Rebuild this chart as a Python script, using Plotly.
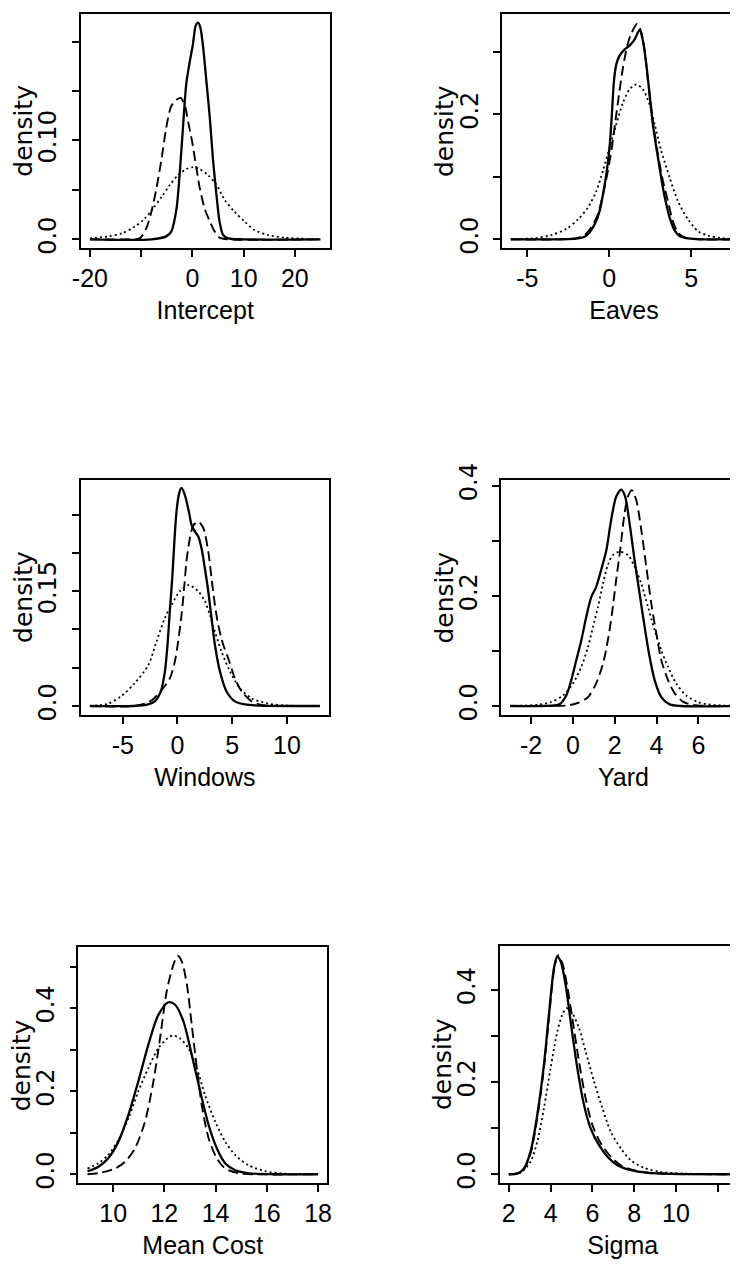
import plotly.graph_objects as go

W, H = 738, 1268

# ---------------- data ----------------
# Intercept
intercept_solid_x = [-20, -8, -5.1, -4.1, -3.1, -2.5, -1.8, -1.2, -0.5, 0.1, 0.65, 1.1, 1.56, 2.1, 2.73, 3.4, 4.0, 4.7, 5.3, 6.0, 7.0, 10, 25]
intercept_solid_y = [0, 0, 0.003, 0.008, 0.031, 0.065, 0.116, 0.157, 0.180, 0.197, 0.216, 0.219, 0.214, 0.194, 0.160, 0.123, 0.082, 0.045, 0.018, 0.0044, 0.001, 0, 0]
intercept_dash_x = [-20, -13, -10.3, -9.0, -8.0, -7.0, -6.0, -5.1, -4.1, -3.1, -2.3, -1.5, -0.84, -0.06, 0.78, 1.43, 2.4, 3.4, 4.35, 5.3, 7, 25]
intercept_dash_y = [0, 0, 0.001, 0.011, 0.028, 0.052, 0.082, 0.113, 0.135, 0.141, 0.143, 0.136, 0.119, 0.099, 0.072, 0.052, 0.031, 0.018, 0.008, 0.0017, 0, 0]
intercept_dot_x = [-20, -16.4, -13.8, -11.2, -9.3, -7.7, -6.0, -4.4, -2.8, -1.2, 0.13, 1.4, 3.05, 4.7, 6.3, 8.2, 10.2, 12.1, 14.7, 18, 25]
intercept_dot_y = [0.001, 0.003, 0.006, 0.013, 0.021, 0.031, 0.043, 0.055, 0.065, 0.071, 0.073, 0.071, 0.065, 0.055, 0.040, 0.028, 0.018, 0.0095, 0.0044, 0.0017, 0]

# Eaves
eaves_solid_x = [-6, -3, -2, -1.5, -1.2, -0.89, -0.59, -0.38, -0.18, 0.02, 0.16, 0.29, 0.43, 0.63, 0.94, 1.24, 1.55, 1.85, 2.05, 2.26, 2.46, 2.66, 2.87, 3.07, 3.27, 3.48, 3.68, 3.95, 4.29, 4.8, 5.82, 8]
eaves_solid_y = [0, 0, 0.001, 0.004, 0.011, 0.024, 0.045, 0.072, 0.104, 0.147, 0.200, 0.254, 0.280, 0.294, 0.304, 0.310, 0.320, 0.335, 0.318, 0.280, 0.232, 0.184, 0.147, 0.115, 0.083, 0.056, 0.035, 0.016, 0.0053, 0.0016, 0, 0]
eaves_dash_x = [-6, -3, -2, -1.5, -1.1, -0.69, -0.38, -0.08, 0.16, 0.43, 0.63, 0.84, 1.1, 1.34, 1.71, 1.95, 2.16, 2.36, 2.66, 2.97, 3.27, 3.58, 3.88, 4.19, 4.6, 5.4, 8]
eaves_dash_y = [0, 0, 0.002, 0.007, 0.019, 0.040, 0.072, 0.110, 0.147, 0.200, 0.238, 0.275, 0.310, 0.329, 0.345, 0.332, 0.302, 0.254, 0.190, 0.136, 0.094, 0.061, 0.029, 0.011, 0.003, 0, 0]
eaves_dot_x = [-6, -4.5, -3.5, -2.6, -1.9, -1.3, -0.79, -0.38, 0.02, 0.43, 0.84, 1.24, 1.65, 2.05, 2.46, 2.77, 3.17, 3.68, 4.19, 4.8, 5.41, 6.02, 6.8, 8]
eaves_dot_y = [0, 0.002, 0.007, 0.017, 0.032, 0.051, 0.077, 0.110, 0.147, 0.184, 0.219, 0.240, 0.248, 0.240, 0.216, 0.184, 0.142, 0.099, 0.061, 0.032, 0.013, 0.006, 0.002, 0]

# Windows
windows_solid_x = [-8, -4, -2.68, -2.07, -1.52, -1.15, -0.91, -0.7, -0.48, -0.3, -0.09, 0.15, 0.37, 0.67, 1.04, 1.28, 1.59, 1.89, 2.2, 2.5, 2.81, 3.11, 3.42, 3.88, 4.48, 5.25, 6.17, 7.4, 13]
windows_solid_y = [0, 0, 0.002, 0.006, 0.019, 0.045, 0.080, 0.124, 0.167, 0.211, 0.254, 0.278, 0.285, 0.276, 0.254, 0.237, 0.228, 0.222, 0.206, 0.180, 0.150, 0.115, 0.080, 0.045, 0.019, 0.006, 0.002, 0.0005, 0]
windows_dash_x = [-8, -4, -2.5, -1.5, -0.7, -0.24, 0.06, 0.37, 0.61, 0.82, 1.13, 1.44, 1.89, 2.35, 2.81, 3.11, 3.42, 3.72, 4.18, 4.64, 5.25, 5.86, 6.77, 7.69, 9, 13]
windows_dash_y = [0, 0, 0.006, 0.020, 0.036, 0.058, 0.084, 0.119, 0.154, 0.189, 0.219, 0.236, 0.241, 0.233, 0.202, 0.167, 0.132, 0.106, 0.080, 0.062, 0.036, 0.019, 0.006, 0.0013, 0, 0]
windows_dot_x = [-8, -6.34, -5.12, -3.9, -2.68, -1.92, -1.15, -0.55, 0.22, 0.98, 1.89, 2.5, 2.96, 3.42, 4.03, 4.8, 5.71, 6.77, 8.3, 10, 13]
windows_dot_y = [0, 0.003, 0.013, 0.030, 0.053, 0.084, 0.115, 0.132, 0.150, 0.158, 0.150, 0.137, 0.119, 0.097, 0.071, 0.045, 0.023, 0.010, 0.003, 0.0005, 0]

# Yard
yard_solid_x = [-3, -1.5, -0.64, -0.32, -0.08, 0.16, 0.4, 0.64, 0.88, 1.11, 1.35, 1.6, 1.83, 2.07, 2.31, 2.5, 2.71, 2.95, 3.19, 3.43, 3.67, 3.91, 4.23, 4.63, 5.18, 8]
yard_solid_y = [0, 0, 0.003, 0.019, 0.047, 0.083, 0.119, 0.162, 0.198, 0.216, 0.247, 0.283, 0.338, 0.380, 0.393, 0.380, 0.332, 0.265, 0.204, 0.144, 0.089, 0.047, 0.016, 0.003, 0, 0]
yard_dash_x = [-3, -1.5, -0.24, 0.24, 0.72, 1.11, 1.44, 1.67, 1.87, 2.07, 2.28, 2.47, 2.63, 2.82, 3.03, 3.27, 3.51, 3.75, 3.99, 4.23, 4.55, 4.87, 5.26, 5.74, 6.5, 8]
yard_dash_y = [0, 0, 0.0012, 0.0055, 0.016, 0.041, 0.077, 0.119, 0.168, 0.229, 0.289, 0.350, 0.380, 0.392, 0.374, 0.320, 0.253, 0.186, 0.132, 0.083, 0.047, 0.023, 0.008, 0.002, 0, 0]
yard_dot_x = [-3, -2.2, -1.67, -1.04, -0.48, 0.0, 0.4, 0.72, 0.96, 1.2, 1.44, 1.67, 1.91, 2.23, 2.63, 2.95, 3.27, 3.59, 3.91, 4.23, 4.55, 4.94, 5.42, 5.98, 6.46, 7.2, 8]
yard_dot_y = [0, 0.001, 0.0024, 0.0073, 0.019, 0.041, 0.071, 0.107, 0.144, 0.180, 0.222, 0.256, 0.274, 0.280, 0.274, 0.253, 0.222, 0.180, 0.138, 0.101, 0.071, 0.041, 0.019, 0.0073, 0.003, 0.001, 0]

# Mean Cost
meancost_solid_x = [9.0, 9.41, 9.8, 10.2, 10.59, 10.98, 11.37, 11.76, 12.16, 12.42, 12.75, 13.07, 13.4, 13.73, 14.05, 14.38, 14.77, 15.29, 16.34, 18]
meancost_solid_y = [0.0072, 0.0177, 0.038, 0.078, 0.142, 0.223, 0.311, 0.383, 0.414, 0.408, 0.367, 0.287, 0.199, 0.118, 0.062, 0.026, 0.0096, 0.0024, 0, 0]
meancost_dash_x = [9.0, 9.54, 10.07, 10.46, 10.85, 11.24, 11.57, 11.83, 12.09, 12.35, 12.52, 12.68, 12.88, 13.07, 13.27, 13.46, 13.73, 14.05, 14.38, 14.9, 15.56, 18]
meancost_dash_y = [0.0, 0.004, 0.0137, 0.030, 0.062, 0.126, 0.223, 0.327, 0.440, 0.504, 0.526, 0.512, 0.456, 0.359, 0.255, 0.166, 0.086, 0.038, 0.0137, 0.0024, 0, 0]
meancost_dot_x = [9.0, 9.41, 9.8, 10.2, 10.59, 10.98, 11.37, 11.76, 12.16, 12.35, 12.61, 12.94, 13.27, 13.59, 13.99, 14.38, 14.77, 15.29, 15.95, 16.73, 18]
meancost_dot_y = [0.0137, 0.026, 0.046, 0.082, 0.134, 0.199, 0.255, 0.303, 0.329, 0.334, 0.327, 0.303, 0.255, 0.190, 0.126, 0.078, 0.046, 0.0217, 0.0072, 0.0016, 0]

# Sigma
sigma_solid_x = [2.0, 2.4, 2.72, 3.04, 3.36, 3.68, 3.92, 4.16, 4.32, 4.48, 4.72, 4.96, 5.28, 5.6, 5.92, 6.32, 6.72, 7.2, 7.84, 8.64, 9.76, 13]
sigma_solid_y = [0, 0.0014, 0.012, 0.049, 0.128, 0.237, 0.346, 0.447, 0.472, 0.462, 0.411, 0.331, 0.230, 0.150, 0.099, 0.063, 0.038, 0.0196, 0.0087, 0.0029, 0.0007, 0]
sigma_dash_x = [2.0, 2.4, 2.72, 3.04, 3.36, 3.68, 3.92, 4.16, 4.35, 4.56, 4.8, 5.04, 5.36, 5.68, 6.0, 6.4, 6.88, 7.36, 8.0, 8.8, 10.08, 13]
sigma_dash_y = [0, 0.002, 0.011, 0.045, 0.121, 0.230, 0.338, 0.440, 0.475, 0.458, 0.407, 0.338, 0.244, 0.164, 0.107, 0.067, 0.038, 0.0196, 0.0087, 0.0029, 0.0007, 0]
sigma_dot_x = [2.0, 2.56, 3.04, 3.36, 3.68, 4.0, 4.32, 4.56, 4.77, 5.04, 5.36, 5.68, 6.08, 6.48, 6.88, 7.36, 7.84, 8.48, 9.28, 10.4, 13]
sigma_dot_y = [0, 0.0036, 0.027, 0.070, 0.143, 0.230, 0.309, 0.346, 0.360, 0.349, 0.317, 0.266, 0.201, 0.143, 0.092, 0.056, 0.030, 0.0138, 0.0051, 0.0014, 0]

# axis labels and ticks
x_titles = ["Intercept", "Eaves", "Windows", "Yard", "Mean Cost", "Sigma"]
x_tickvals = [[-20, -10, 0, 10, 20], [-5, 0, 5], [-5, 0, 5, 10], [-2, 0, 2, 4, 6, 8], [10, 12, 14, 16, 18], [2, 4, 6, 8, 10, 12]]
x_ticktext = [["-20", "", "0", "10", "20"], ["-5", "0", "5"], ["-5", "0", "5", "10"], ["-2", "0", "2", "4", "6", "8"], ["10", "12", "14", "16", "18"], ["2", "4", "6", "8", "10", ""]]
y_tickvals = [[0, 0.05, 0.10, 0.15, 0.20], [0, 0.1, 0.2, 0.3], [0, 0.05, 0.10, 0.15, 0.20, 0.25], [0, 0.1, 0.2, 0.3, 0.4], [0, 0.1, 0.2, 0.3, 0.4, 0.5], [0, 0.1, 0.2, 0.3, 0.4]]
y_ticktext = [["0.0", "", "0.10", "", ""], ["0.0", "", "0.2", ""], ["0.0", "", "", "0.15", "", ""], ["0.0", "", "0.2", "", "0.4"], ["0.0", "", "0.2", "", "0.4", ""], ["0.0", "", "0.2", "", "0.4"]]
y_title = "density"

series = [
    (intercept_solid_x, intercept_solid_y, intercept_dash_x, intercept_dash_y, intercept_dot_x, intercept_dot_y),
    (eaves_solid_x, eaves_solid_y, eaves_dash_x, eaves_dash_y, eaves_dot_x, eaves_dot_y),
    (windows_solid_x, windows_solid_y, windows_dash_x, windows_dash_y, windows_dot_x, windows_dot_y),
    (yard_solid_x, yard_solid_y, yard_dash_x, yard_dash_y, yard_dot_x, yard_dot_y),
    (meancost_solid_x, meancost_solid_y, meancost_dash_x, meancost_dash_y, meancost_dot_x, meancost_dot_y),
    (sigma_solid_x, sigma_solid_y, sigma_dash_x, sigma_dash_y, sigma_dot_x, sigma_dot_y),
]

# ---------------- layout geometry (pixels) ----------------
# frame boxes: left, right, top, bottom
boxes = [
    (72.7, 321.7, 6.0, 240.0),
    (494.0, 738.0, 6.0, 240.0),
    (72.7, 321.0, 471.7, 706.7),
    (493.0, 738.0, 472.3, 706.7),
    (70.3, 319.3, 939.0, 1175.0),
    (491.6, 738.0, 938.0, 1175.0),
]
x_ranges = [(-21.8, 26.8), (-6.54, 8.34), (-8.84, 13.84), (-3.44, 8.28), (8.64, 18.36), (1.56, 13.35)]
y_ranges = [(-0.00876, 0.2278), (-0.0139, 0.3606), (-0.0114, 0.2958), (-0.01576, 0.4098), (-0.021, 0.547), (-0.019, 0.495)]
YTITLE_GAP = 57  # px from frame left edge to the "density" label anchor

XFONT = "Liberation Sans, Arial, sans-serif"
YFONT = "DejaVu Sans, Liberation Sans, sans-serif"

fig = go.Figure()
layout = {}
annotations = []
for i in range(6):
    n = "" if i == 0 else str(i + 1)
    sx, sy, dx, dy, ox, oy = series[i]
    for xs, ys, dash, lw in ((ox, oy, "2px,3px", 1.8), (dx, dy, "10px,5px", 1.9), (sx, sy, "solid", 2.3)):
        fig.add_trace(go.Scatter(
            x=xs, y=ys, mode="lines", xaxis="x" + n, yaxis="y" + n,
            line=dict(color="black", width=lw, dash=dash, shape="spline", smoothing=0.8),
            showlegend=False, hoverinfo="skip",
        ))
    l, r, t, b = boxes[i]
    right_col = i % 2 == 1
    layout["xaxis" + n] = dict(
        domain=[l / W, r / W], range=list(x_ranges[i]), anchor="y" + n,
        automargin=False, ticklabeloverflow="allow",
        showline=True, linecolor="black", linewidth=1.6, mirror=True,
        ticks="outside", ticklen=7, tickwidth=1.5, tickcolor="black",
        tickvals=x_tickvals[i], ticktext=x_ticktext[i],
        tickfont=dict(family=XFONT, size=25, color="black"),
        ticklabelstandoff=0,
        showgrid=False, zeroline=False,
        title=dict(text=x_titles[i], font=dict(family=XFONT, size=25, color="black"), standoff=11),
    )
    layout["yaxis" + n] = dict(
        domain=[1 - b / H, 1 - t / H], range=list(y_ranges[i]), anchor="x" + n,
        automargin=False, ticklabeloverflow="allow",
        showline=True, linecolor="black", linewidth=1.6, mirror=not right_col,
        ticks="outside", ticklen=7, tickwidth=1.5, tickcolor="black",
        tickvals=y_tickvals[i], ticktext=y_ticktext[i], tickangle=-90,
        tickfont=dict(family=YFONT, size=24, color="black"),
        ticklabelstandoff=6,
        showgrid=False, zeroline=False,
    )
    # y-axis title "density", rotated like the reference
    annotations.append(dict(
        text=y_title, textangle=-90, showarrow=False,
        xref="paper", yref="paper",
        x=(l - YTITLE_GAP) / W, y=1 - (t + b) / 2 / H,
        xanchor="center", yanchor="middle",
        font=dict(family=YFONT, size=25, color="black"),
    ))

fig.update_layout(
    width=W, height=H, margin=dict(l=0, r=0, t=0, b=0, autoexpand=False),
    paper_bgcolor="white", plot_bgcolor="white", annotations=annotations, **layout,
)
fig.write_html("out.html")
